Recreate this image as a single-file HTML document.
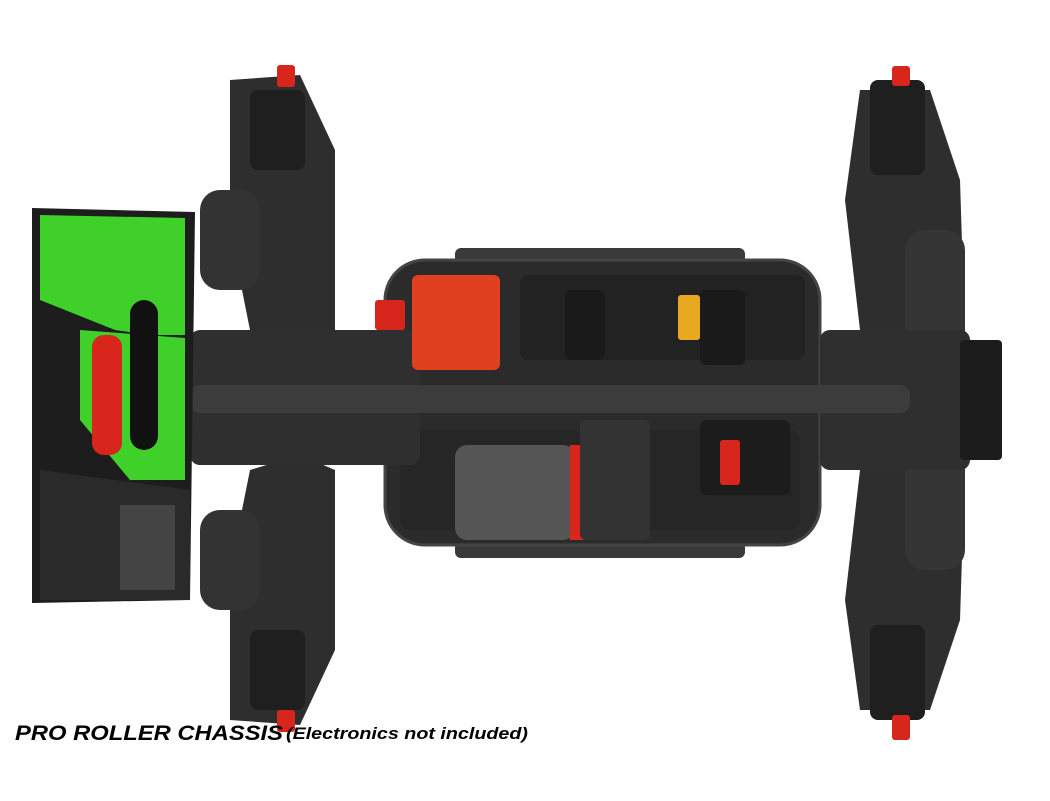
<!DOCTYPE html>
<html><head><meta charset="utf-8"><style>
html,body{margin:0;padding:0;background:#fff;width:1050px;height:801px;overflow:hidden}
svg{display:block}
.t{font-family:"Liberation Sans",sans-serif;font-style:italic;font-weight:bold}
</style></head><body>
<svg width="1050" height="801" viewBox="0 0 1050 801">
<!-- central chassis plate -->
<rect x="455" y="248" width="290" height="310" rx="6" fill="#3a3a3a"/>
<rect x="385" y="260" width="435" height="285" rx="40" fill="#2b2b2b" stroke="#444" stroke-width="3"/>
<rect x="520" y="275" width="285" height="85" rx="8" fill="#222"/>
<rect x="400" y="430" width="400" height="100" rx="10" fill="#262626"/>
<!-- rear suspension -->
<path d="M230 80 L300 75 L335 150 L335 330 L300 345 L250 330 L230 230 Z" fill="#2e2e2e"/>
<path d="M230 720 L300 725 L335 650 L335 470 L300 455 L250 470 L230 570 Z" fill="#2e2e2e"/>
<rect x="250" y="90" width="55" height="80" rx="8" fill="#1f1f1f"/>
<rect x="250" y="630" width="55" height="80" rx="8" fill="#1f1f1f"/>
<rect x="277" y="65" width="18" height="22" rx="3" fill="#d8261c"/>
<rect x="277" y="710" width="18" height="22" rx="3" fill="#d8261c"/>
<rect x="200" y="190" width="60" height="100" rx="20" fill="#333"/>
<rect x="200" y="510" width="60" height="100" rx="20" fill="#333"/>
<rect x="190" y="330" width="230" height="135" rx="10" fill="#2f2f2f"/>
<!-- front suspension -->
<path d="M860 90 L930 90 L960 180 L965 340 L900 360 L860 330 L845 200 Z" fill="#2e2e2e"/>
<path d="M860 710 L930 710 L960 620 L965 460 L900 440 L860 470 L845 600 Z" fill="#2e2e2e"/>
<rect x="870" y="80" width="55" height="95" rx="8" fill="#1f1f1f"/>
<rect x="870" y="625" width="55" height="95" rx="8" fill="#1f1f1f"/>
<rect x="892" y="66" width="18" height="20" rx="3" fill="#d8261c"/>
<rect x="892" y="715" width="18" height="25" rx="3" fill="#d8261c"/>
<rect x="905" y="230" width="60" height="120" rx="20" fill="#353535"/>
<rect x="905" y="450" width="60" height="120" rx="20" fill="#353535"/>
<rect x="820" y="330" width="150" height="140" rx="10" fill="#2f2f2f"/>
<rect x="960" y="340" width="42" height="120" rx="4" fill="#1c1c1c"/>
<!-- driveshaft -->
<rect x="190" y="385" width="720" height="28" rx="10" fill="#3c3c3c"/>
<!-- ESC -->
<rect x="412" y="275" width="88" height="95" rx="6" fill="#e0401f"/>
<rect x="375" y="300" width="30" height="30" rx="3" fill="#d8261c"/>
<!-- battery straps / plugs -->
<rect x="565" y="290" width="40" height="70" rx="6" fill="#1a1a1a"/>
<rect x="700" y="290" width="45" height="75" rx="6" fill="#1a1a1a"/>
<rect x="678" y="295" width="22" height="45" rx="3" fill="#e8a820"/>
<!-- motor -->
<rect x="455" y="445" width="120" height="95" rx="12" fill="#555"/>
<rect x="570" y="445" width="15" height="95" fill="#d8261c"/>
<rect x="580" y="420" width="70" height="120" rx="6" fill="#333"/>
<!-- servo -->
<rect x="700" y="420" width="90" height="75" rx="6" fill="#1c1c1c"/>
<rect x="720" y="440" width="20" height="45" rx="3" fill="#d8261c"/>
<!-- wing -->
<path d="M32 208 L195 212 L190 600 L32 603 Z" fill="#1d1d1d"/>
<path d="M40 215 L185 218 L185 335 L150 335 L115 330 L40 300 Z" fill="#3fd12a"/>
<path d="M80 330 L185 338 L185 480 L130 480 L80 420 Z" fill="#3fd12a"/>
<rect x="92" y="335" width="30" height="120" rx="12" fill="#d8261c"/>
<rect x="130" y="300" width="28" height="150" rx="14" fill="#111"/>
<path d="M40 470 L190 490 L190 600 L40 600 Z" fill="#2a2a2a"/>
<rect x="120" y="505" width="55" height="85" fill="#444"/>
<text class="t" x="15" y="740" font-size="21" fill="#000" textLength="268" lengthAdjust="spacingAndGlyphs">PRO ROLLER CHASSIS</text>
<text class="t" x="286" y="739" font-size="17" fill="#000" textLength="242" lengthAdjust="spacingAndGlyphs">(Electronics not included)</text>
</svg>
</body></html>
